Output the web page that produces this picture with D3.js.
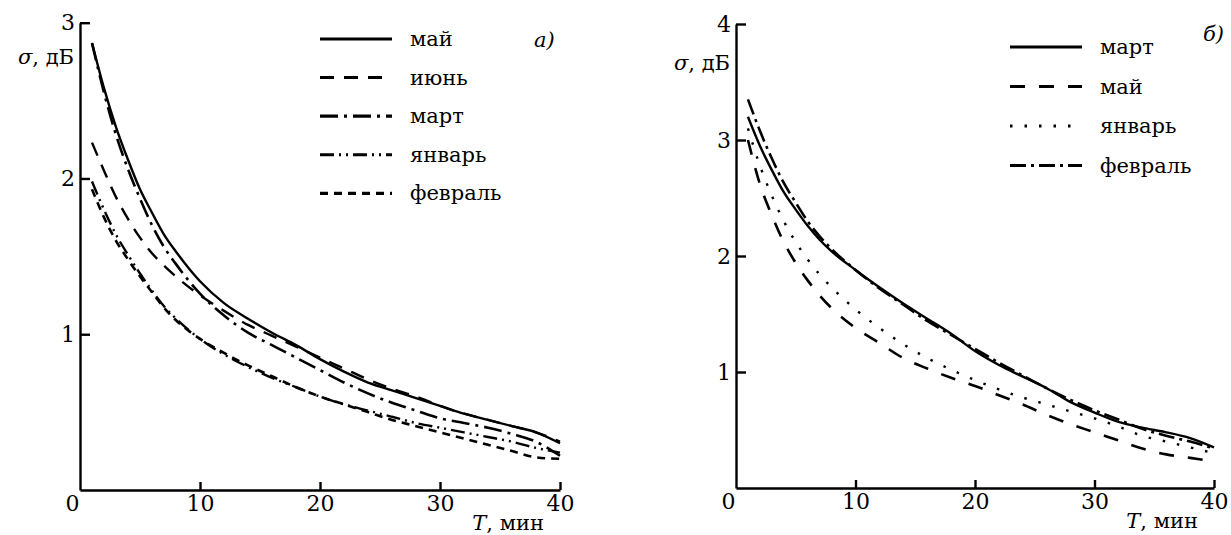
<!DOCTYPE html>
<html>
<head>
<meta charset="utf-8">
<script src="https://cdn.jsdelivr.net/npm/d3@7"></script>
<style>
  html, body { margin: 0; padding: 0; background: #fff; }
  svg { display: block; }
</style>
</head>
<body>
<div id="chart"></div>
<script>
// DATA
const minutes = [1, 2, 3, 4, 5, 6, 7, 8, 10, 12, 14, 16, 18, 20, 22, 24, 26, 28, 30, 32, 34, 36, 38, 40];
const xTicks = [0, 10, 20, 30, 40];
const yTicksA = [1, 2, 3];
const yTicksB = [1, 2, 3, 4];

// panel a)
const monthsA = ["май", "июнь", "март", "январь", "февраль"];
const mayA = [2.87, 2.58, 2.33, 2.12, 1.93, 1.78, 1.64, 1.53, 1.34, 1.2, 1.1, 1.01, 0.93, 0.84, 0.76, 0.69, 0.64, 0.59, 0.54, 0.49, 0.45, 0.41, 0.37, 0.3];
const juneA = [2.23, 2.05, 1.88, 1.74, 1.62, 1.52, 1.44, 1.37, 1.25, 1.15, 1.06, 0.99, 0.92, 0.85, 0.78, 0.71, 0.65, 0.6, 0.54, 0.49, 0.45, 0.41, 0.37, 0.31];
const marchA = [2.87, 2.55, 2.28, 2.06, 1.87, 1.7, 1.56, 1.45, 1.26, 1.12, 1.01, 0.93, 0.85, 0.77, 0.69, 0.62, 0.56, 0.51, 0.46, 0.43, 0.4, 0.36, 0.31, 0.22];
const januaryA = [1.98, 1.8, 1.64, 1.51, 1.39, 1.28, 1.18, 1.1, 0.97, 0.87, 0.79, 0.72, 0.66, 0.6, 0.55, 0.51, 0.47, 0.43, 0.4, 0.37, 0.34, 0.31, 0.27, 0.24];
const februaryA = [1.93, 1.75, 1.6, 1.48, 1.37, 1.27, 1.17, 1.09, 0.97, 0.88, 0.8, 0.73, 0.66, 0.6, 0.55, 0.5, 0.45, 0.41, 0.37, 0.33, 0.29, 0.25, 0.21, 0.2];

// panel б)
const monthsB = ["март", "май", "январь", "февраль"];
const marchB = [3.2, 2.95, 2.74, 2.55, 2.4, 2.26, 2.14, 2.04, 1.88, 1.73, 1.59, 1.46, 1.33, 1.18, 1.06, 0.96, 0.86, 0.74, 0.65, 0.57, 0.52, 0.48, 0.43, 0.35];
const mayB = [3.0, 2.62, 2.35, 2.12, 1.94, 1.79, 1.66, 1.55, 1.38, 1.25, 1.12, 1.03, 0.95, 0.88, 0.8, 0.72, 0.63, 0.55, 0.48, 0.41, 0.34, 0.29, 0.26, 0.23];
const januaryB = [3.1, 2.78, 2.52, 2.3, 2.12, 1.97, 1.84, 1.73, 1.54, 1.38, 1.24, 1.12, 1.02, 0.93, 0.85, 0.78, 0.72, 0.66, 0.6, 0.53, 0.45, 0.4, 0.35, 0.3];
const februaryB = [3.35, 3.08, 2.84, 2.63, 2.46, 2.3, 2.17, 2.06, 1.88, 1.72, 1.58, 1.44, 1.32, 1.2, 1.08, 0.97, 0.86, 0.76, 0.67, 0.59, 0.51, 0.45, 0.4, 0.34];

const FONT = "'DejaVu Serif', serif";

function drawPanel(svg, cfg) {
  const x = d3.scaleLinear().domain([0, 40]).range(cfg.xRange);
  const y = d3.scaleLinear().domain([0, cfg.yMax]).range(cfg.yRange);
  const g = svg.append("g");

  // AXES
  const xAxis = g.append("g")
    .attr("transform", `translate(0,${y(0)})`)
    .call(d3.axisBottom(x).tickValues(xTicks).tickFormat(d3.format("d"))
      .tickSize(-8).tickSizeOuter(0).tickPadding(5));
  xAxis.selectAll(".tick").filter(d => d === 0).select("line").remove();
  xAxis.selectAll(".tick").filter(d => d === 0).select("text").attr("dx", -8);

  g.append("g")
    .attr("transform", `translate(${x(0)},0)`)
    .call(d3.axisLeft(y).tickValues(cfg.yTicks).tickFormat(d3.format("d"))
      .tickSize(-10).tickSizeOuter(0).tickPadding(5));

  g.selectAll(".domain, .tick line").attr("stroke", "#000").attr("stroke-width", 2.4);
  g.selectAll(".tick text")
    .attr("font-family", FONT).attr("font-size", 22).attr("fill", "#000");

  // AXIS TITLES
  const yt = g.append("text")
    .attr("x", x(0) - 6).attr("y", cfg.yTitleY)
    .attr("text-anchor", "end")
    .attr("font-family", FONT).attr("font-size", 21);
  yt.append("tspan").attr("font-style", "italic").text("σ");
  yt.append("tspan").text(", дБ");

  const xt = g.append("text")
    .attr("x", x(40) - 16).attr("y", y(0) + 40)
    .attr("text-anchor", "end")
    .attr("font-family", FONT).attr("font-size", 21);
  xt.append("tspan").attr("font-style", "italic").text("T");
  xt.append("tspan").text(", мин");

  g.append("text")
    .attr("x", cfg.tag.x).attr("y", cfg.tag.y)
    .attr("font-family", FONT).attr("font-size", 21).attr("font-style", "italic")
    .text(cfg.tag.text);

  // CURVES
  const line = d3.line()
    .x((d, i) => x(minutes[i]))
    .y(d => y(d))
    .curve(d3.curveMonotoneX);

  g.append("g").selectAll("path")
    .data(cfg.series)
    .join("path")
      .attr("d", d => line(d))
      .attr("fill", "none")
      .attr("stroke", "#000")
      .attr("stroke-width", (d, i) => cfg.widths[i])
      .attr("stroke-dasharray", (d, i) => cfg.dashes[i]);

  // LEGEND
  const legend = g.append("g");
  cfg.names.forEach((name, i) => {
    const ly = cfg.legend.y + i * cfg.legend.step;
    legend.append("line")
      .attr("x1", cfg.legend.x).attr("x2", cfg.legend.x + 72)
      .attr("y1", ly).attr("y2", ly)
      .attr("stroke", "#000")
      .attr("stroke-width", cfg.widths[i] + 0.6)
      .attr("stroke-dasharray", cfg.dashes[i]);
    legend.append("text")
      .attr("x", cfg.legend.x + 90).attr("y", ly + 7)
      .attr("font-family", FONT).attr("font-size", 21)
      .text(name);
  });
}

const svg = d3.select("#chart").append("svg")
  .attr("width", 1231).attr("height", 535);

drawPanel(svg, {
  xRange: [80, 560], yRange: [490, 22.7], yMax: 3, yTicks: yTicksA,
  yTitleY: 64,
  tag: { x: 534, y: 47, text: "a)" },
  names: monthsA,
  series: [mayA, juneA, marchA, januaryA, februaryA],
  widths: [2.4, 2.4, 2.6, 2.4, 2.6],
  dashes: [null, "14,10", "18,6,3,6", "14,5,2,5,2,5", "8,6"],
  legend: { x: 320, y: 39, step: 38.6 }
});

drawPanel(svg, {
  xRange: [736, 1214], yRange: [488, 24], yMax: 4, yTicks: yTicksB,
  yTitleY: 70,
  tag: { x: 1203, y: 41, text: "б)" },
  names: monthsB,
  series: [marchB, mayB, januaryB, februaryB],
  widths: [2.4, 2.6, 2.4, 2.6],
  dashes: [null, "15,14", "2.5,12", "16,5,3,5"],
  legend: { x: 1010, y: 47, step: 39.5 }
});
</script>
</body>
</html>
